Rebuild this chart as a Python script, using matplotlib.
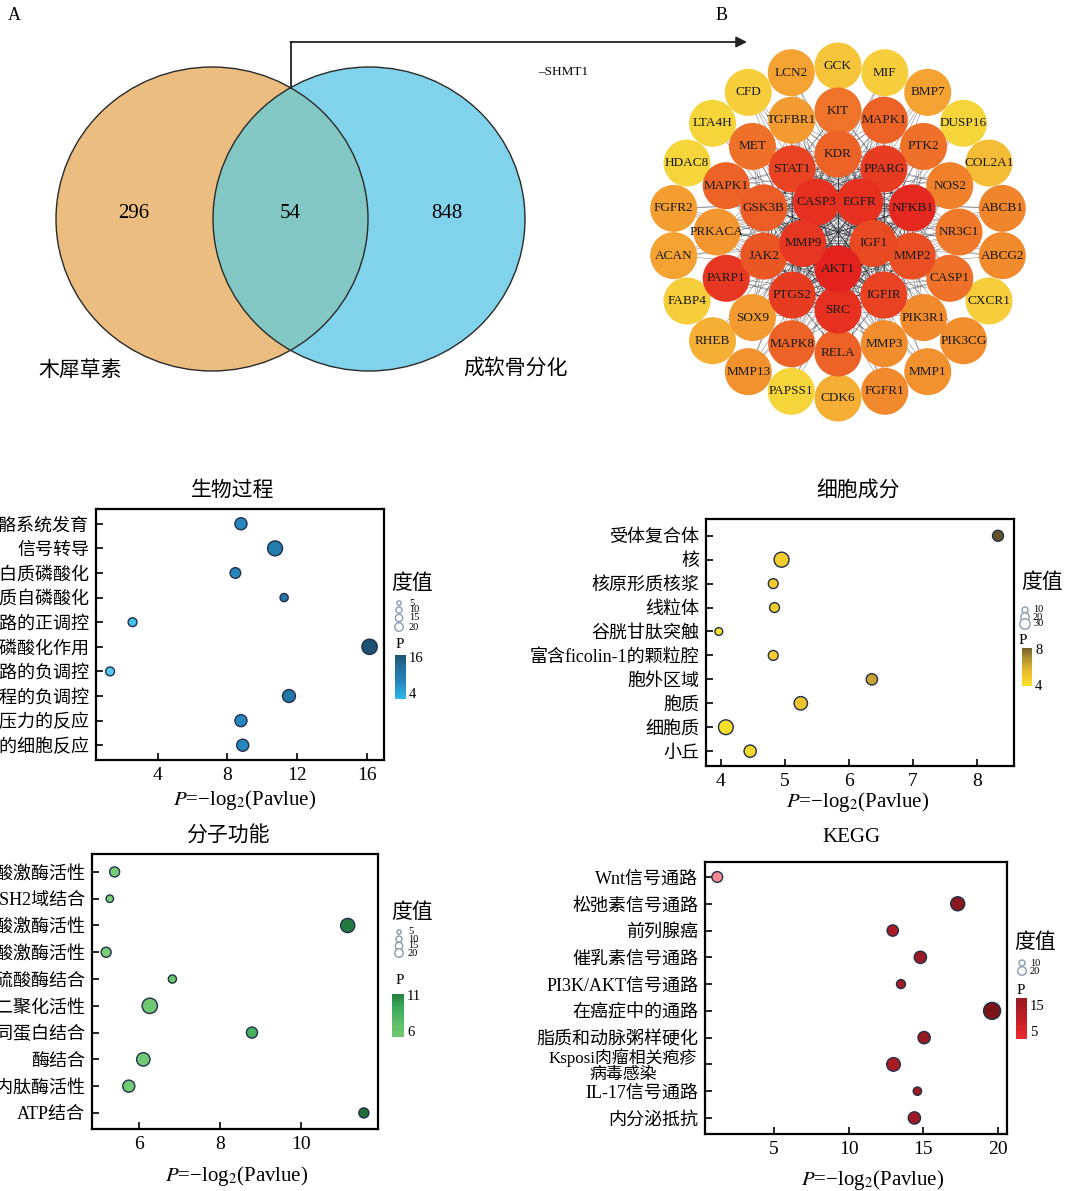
import numpy as np
import matplotlib
matplotlib.use("Agg")
import matplotlib.pyplot as plt
from matplotlib.patches import Ellipse, Circle
from matplotlib.colors import LinearSegmentedColormap, Normalize

W, H = 1074, 1191
plt.rcParams['font.family'] = ['Liberation Serif', 'Noto Sans CJK SC']
plt.rcParams['mathtext.fontset'] = 'stix'
MIX = ['Liberation Serif', 'Noto Sans CJK SC']
CJK = ['Noto Sans CJK SC', 'Liberation Serif']

# ---------------- data ----------------
venn_sets = ['木犀草素', '成软骨分化']
venn_counts = [296, 54, 848]          # luteolin only, shared, chondrogenesis only
isolated_gene = 'SHMT1'

# PPI network, hub genes in the inner shells
shell1 = ['CASP3', 'EGFR', 'IGF1', 'AKT1', 'MMP9']
shell1_deg = [44, 44, 40, 46, 43]
shell2 = ['KDR', 'PPARG', 'NFKB1', 'MMP2', 'IGFIR', 'SRC', 'PTGS2', 'JAK2', 'GSK3B', 'STAT1']
shell2_deg = [36, 42, 45, 39, 41, 44, 42, 38, 37, 41]
shell3 = ['KIT', 'MAPK1', 'PTK2', 'NOS2', 'NR3C1', 'CASP1', 'PIK3R1', 'MMP3', 'RELA', 'MAPK8',
          'SOX9', 'PARP1', 'PRKACA', 'MAPK1', 'MET', 'TGFBR1']
shell3_deg = [33, 36, 34, 30, 32, 34, 28, 27, 36, 36, 24, 43, 25, 36, 34, 24]
shell4 = ['GCK', 'MIF', 'BMP7', 'DUSP16', 'COL2A1', 'ABCB1', 'ABCG2', 'CXCR1', 'PIK3CG', 'MMP1',
          'FGFR1', 'CDK6', 'PAPSS1', 'MMP13', 'RHEB', 'FABP4', 'ACAN', 'FGFR2', 'HDAC8', 'LTA4H',
          'CFD', 'LCN2']
shell4_deg = [14, 12, 22, 10, 16, 29, 28, 12, 27, 26, 28, 19, 10, 26, 19, 12, 22, 23, 10, 10, 12, 22]

# GO biological process
bp_terms = ['骨骼系统发育', '信号转导', '蛋白质磷酸化', '蛋白质自磷酸化', '细胞凋亡信号通路的正调控',
            '肽基酪氨酸磷酸化作用', '细胞凋亡信号通路的负调控', '细胞凋亡过程的负调控',
            '对机械压力的反应', '对脂多糖的细胞反应']
bp_p = [8.78, 10.74, 8.46, 11.26, 2.55, 16.17, 1.26, 11.54, 8.78, 8.88]
bp_deg = [13, 20, 10, 6, 7, 21, 7, 15, 13, 13]

# GO cellular component
cc_terms = ['受体复合体', '核', '核原形质核浆', '线粒体', '谷胱甘肽突触', '富含ficolin-1的颗粒腔',
            '胞外区域', '胞质', '细胞质', '小丘']
cc_p = [8.33, 4.95, 4.82, 4.84, 3.97, 4.82, 6.36, 5.25, 4.08, 4.46]
cc_deg = [16, 30, 13, 13, 8, 13, 17, 24, 29, 20]

# GO molecular function
mf_terms = ['蛋白丝氨酸/苏氨酸激酶活性', '蛋白质SH2域结合', '蛋白酪氨酸激酶活性',
            '跨膜受体蛋白酪氨酸激酶活性', '芳基硫酸酶结合', '蛋白质异二聚化活性', '相同蛋白结合',
            '酶结合', '金属内肽酶活性', 'ATP结合']
mf_p = [5.39, 5.27, 11.16, 5.18, 6.82, 6.26, 8.79, 6.10, 5.74, 11.56]
mf_deg = [9, 5, 18, 9, 6, 21, 11, 16, 13, 9]

# KEGG pathways
kegg_terms = ['Wnt信号通路', '松弛素信号通路', '前列腺癌', '催乳素信号通路', 'PI3K/AKT信号通路',
              '在癌症中的通路', '脂质和动脉粥样硬化', 'Ksposi肉瘤相关疱疹\n病毒感染',
              'IL-17信号通路', '内分泌抵抗']
kegg_p = [1.2, 17.3, 12.95, 14.8, 13.5, 19.6, 15.05, 13.0, 14.6, 14.4]
kegg_deg = [10, 17, 11, 13, 7, 25, 13, 16, 6, 13]

# ---------------- figure ----------------
fig = plt.figure(figsize=(W / 100, H / 100), dpi=100)
base = fig.add_axes([0, 0, 1, 1])
base.axis('off')


def px_axes(x0, y0, x1, y1):
    return fig.add_axes([x0 / W, 1 - y1 / H, (x1 - x0) / W, (y1 - y0) / H])


# panel letters
base.text(14, 16, 'A', fontsize=13, ha='center', va='center')
base.text(722, 16, 'B', fontsize=13, ha='center', va='center')

# ---- Venn diagram ----
cl, cr, cyv, ew, eh = 212, 369, 219, 312, 304
e_left = Ellipse((cl, cyv), ew, eh, fc='#ebbd80', ec='none', zorder=1)
e_right = Ellipse((cr, cyv), ew, eh, fc='#80d3ea', ec='none', zorder=1)
base.add_patch(e_left)
base.add_patch(e_right)
shared = Ellipse((cr, cyv), ew, eh, fc='#83c7c4', ec='none', zorder=2)
base.add_patch(shared)
shared.set_clip_path(e_left)
for c in (cl, cr):
    base.add_patch(Ellipse((c, cyv), ew, eh, fc='none', ec='#2a2a2a', lw=1.0, zorder=3))
base.text(cl - ew / 4, cyv - 5, str(venn_counts[0]), fontsize=15, ha='center', va='center', zorder=4)
base.text((cl + cr) / 2, cyv - 5, str(venn_counts[1]), fontsize=15, ha='center', va='center', zorder=4)
base.text(cr + ew / 4, cyv - 5, str(venn_counts[2]), fontsize=15, ha='center', va='center', zorder=4)
base.text(80, 370, venn_sets[0], fontsize=15, family=CJK, ha='center', va='center')
base.text(515, 368, venn_sets[1], fontsize=15, family=CJK, ha='center', va='center')

# arrow from the overlap to the network
base.plot([291, 291], [88, 42], color='#222222', lw=1.3, zorder=4)
base.annotate('', xy=(747, 42), xytext=(290.4, 42),
              arrowprops=dict(arrowstyle='-|>', color='#222222', lw=1.3, mutation_scale=16,
                              shrinkA=0, shrinkB=0))
base.text(563, 72, '\u2013' + isolated_gene, fontsize=9.5, ha='center', va='center')

# ---- PPI network (concentric shells) ----
ncx, ncy, node_r = 838, 232, 23.5
net_cmap = LinearSegmentedColormap.from_list('net', ['#f6d53b', '#f4a232', '#ef7028', '#e4231f'])
net_norm = Normalize(10, 46)
shells = [(shell1, shell1_deg, 37, 126), (shell2, shell2_deg, 78, 90),
          (shell3, shell3_deg, 121, 90), (shell4, shell4_deg, 166, 90)]
nodes = []
for level, (names, degs, rad, start) in enumerate(shells):
    n = len(names)
    for k, (nm, dg) in enumerate(zip(names, degs)):
        a = np.deg2rad(start - k * 360.0 / n)
        nodes.append((nm, dg, level, ncx + rad * np.cos(a), ncy - rad * np.sin(a)))

# interactions: hubs link to everything, the periphery links inward
for i in range(len(nodes)):
    for j in range(i + 1, len(nodes)):
        li, lj = nodes[i][2], nodes[j][2]
        if li + lj <= 3:
            inner = (li <= 1 and lj <= 1)
            base.plot([nodes[i][3], nodes[j][3]], [nodes[i][4], nodes[j][4]],
                      color='#1a1a1a' if inner else '#3c3f48', lw=0.45,
                      alpha=0.8 if inner else 0.55, zorder=4)

for nm, dg, level, x, y in sorted(nodes, key=lambda t: -t[2]):
    base.add_patch(Circle((x, y), node_r, fc=net_cmap(net_norm(dg)), ec='none',
                          zorder=10 + (3 - level)))
for nm, dg, level, x, y in nodes:
    base.text(x, y, nm, fontsize=9.5, ha='center', va='center', color='#1a1a1a', zorder=20)


# ---- bubble panels ----
XLABEL = '$P$=\u2212log$_2$(Pavlue)'


def bubble_panel(box, title, title_xy, xlabel_xy, terms, pv, degs, cmap, norm, k,
                 xlim, xticks, ypad, title_family):
    ax = px_axes(*box)
    y = np.arange(len(terms))
    ax.scatter(pv, y, s=np.array(degs) * k, c=cmap(norm(np.array(pv))),
               edgecolors='#22304a', linewidths=1.0, zorder=3, clip_on=False)
    ax.set_xlim(*xlim)
    ax.set_ylim(len(terms) - 1 + ypad[1], -ypad[0])
    ax.set_yticks(y)
    # wrapped terms are written beside their tick with their own line spacing
    ax.set_yticklabels(['' if '\n' in t else t for t in terms], fontfamily=MIX, fontsize=13)
    gap = 8.0 / (box[2] - box[0])
    for yi, t in zip(y, terms):
        if '\n' in t:
            ax.text(-gap, yi + 0.05, t, transform=ax.get_yaxis_transform(), ha='right',
                    va='center', multialignment='center', linespacing=1.05,
                    fontfamily=MIX, fontsize=12.2)
    ax.set_xticks(xticks)
    ax.set_xticklabels([str(t) for t in xticks], fontsize=14)
    ax.tick_params(direction='in', length=5, width=1.2, pad=5)
    for sp in ax.spines.values():
        sp.set_linewidth(1.6)
    fig.text(title_xy[0] / W, 1 - title_xy[1] / H, title, fontsize=15, family=title_family,
             ha='center', va='center')
    fig.text(xlabel_xy[0] / W, 1 - xlabel_xy[1] / H, XLABEL,
             fontsize=15, ha='center', va='center')
    return ax


def legend_block(title_xy, circ_x, circ_ys, sizes, lab_x, p_xy, cb_box, cmap, norm,
                 cb_range, cb_labels):
    base.text(*title_xy, '度值', fontsize=15, family=CJK, ha='center', va='center')
    for yy, sz in zip(circ_ys, sizes):
        base.add_patch(Circle((circ_x, yy), 0.95 * np.sqrt(sz), fc='white', ec='#8a9bb0', lw=1.0))
        base.text(lab_x, yy, str(sz), fontsize=7.5, ha='left', va='center')
    base.text(*p_xy, 'P', fontsize=11, ha='center', va='center')
    x0, y0, x1, y1 = cb_box
    grad = np.linspace(cb_range[0], cb_range[1], 120)[:, None]
    base.imshow(cmap(norm(grad)), extent=(x0, x1, y1, y0), origin='lower', aspect='auto',
                interpolation='bilinear', zorder=2)
    for txt, yy in cb_labels:
        base.text(x1 + 3, yy, txt, fontsize=10.5, ha='left', va='center')


bp_cmap = LinearSegmentedColormap.from_list('bp', ['#62cff5', '#2fb5e8', '#2788c0', '#226f9e', '#1c4a66'])
bp_norm = Normalize(0, 17)
bubble_panel((96, 509, 384, 760), '生物过程', (233, 490), (245, 800), bp_terms, bp_p, bp_deg,
             bp_cmap, bp_norm, 5.8, (0.45, 17.0), [4, 8, 12, 16], (0.6, 0.6), CJK)
legend_block((412, 583), 399, [603, 610, 618, 627], [5, 10, 15, 20], 409, (400, 645),
             (395, 655, 406, 699), bp_cmap, bp_norm, (4, 16), [('16', 658), ('4', 695)])

cc_cmap = LinearSegmentedColormap.from_list('cc', ['#fbe52a', '#eec22e', '#b39231', '#5e4a26'])
cc_norm = Normalize(3.8, 8.5)
bubble_panel((706, 519, 1014, 766), '细胞成分', (858, 491), (858, 802), cc_terms, cc_p, cc_deg,
             cc_cmap, cc_norm, 3.9, (3.77, 8.58), [4, 5, 6, 7, 8], (0.7, 0.62), CJK)
legend_block((1042, 582), 1025, [610, 617, 624], [10, 20, 30], 1033, (1023, 640),
             (1022, 648, 1032, 686), cc_cmap, cc_norm, (4, 8), [('8', 651), ('4', 686)])

mf_cmap = LinearSegmentedColormap.from_list('mf', ['#7ccf7c', '#66c26c', '#38a85a', '#1c6634'])
mf_norm = Normalize(4.8, 11.9)
bubble_panel((92, 854, 378, 1129), '分子功能', (228, 836), (237, 1176), mf_terms, mf_p, mf_deg,
             mf_cmap, mf_norm, 5.8, (4.83, 11.91), [6, 8, 10], (0.67, 0.6), CJK)
legend_block((412, 912), 399, [932, 939, 946, 953], [5, 10, 15, 20], 408, (400, 980),
             (392, 994, 404, 1037), mf_cmap, mf_norm, (6, 11), [('11', 997), ('6', 1033)])

kg_cmap = LinearSegmentedColormap.from_list('kg', [(0, '#f8a8b0'), (0.25, '#ec2a2e'),
                                                   (0.5, '#c21d25'), (0.75, '#9a1a22'),
                                                   (1, '#761418')])
kg_norm = Normalize(0, 20)
bubble_panel((705, 862, 1007, 1134), 'KEGG', (851, 838), (873, 1180), kegg_terms, kegg_p, kegg_deg,
             kg_cmap, kg_norm, 6.0, (0.38, 20.6), [5, 10, 15, 20], (0.56, 0.6), MIX)
legend_block((1035, 942), 1022, [963, 971], [10, 20], 1030, (1021, 990),
             (1016, 998, 1027, 1039), kg_cmap, kg_norm, (5, 15), [('15', 1006), ('5', 1033)])

base.set_xlim(0, W)
base.set_ylim(H, 0)
fig.savefig('out.png', dpi=100)
